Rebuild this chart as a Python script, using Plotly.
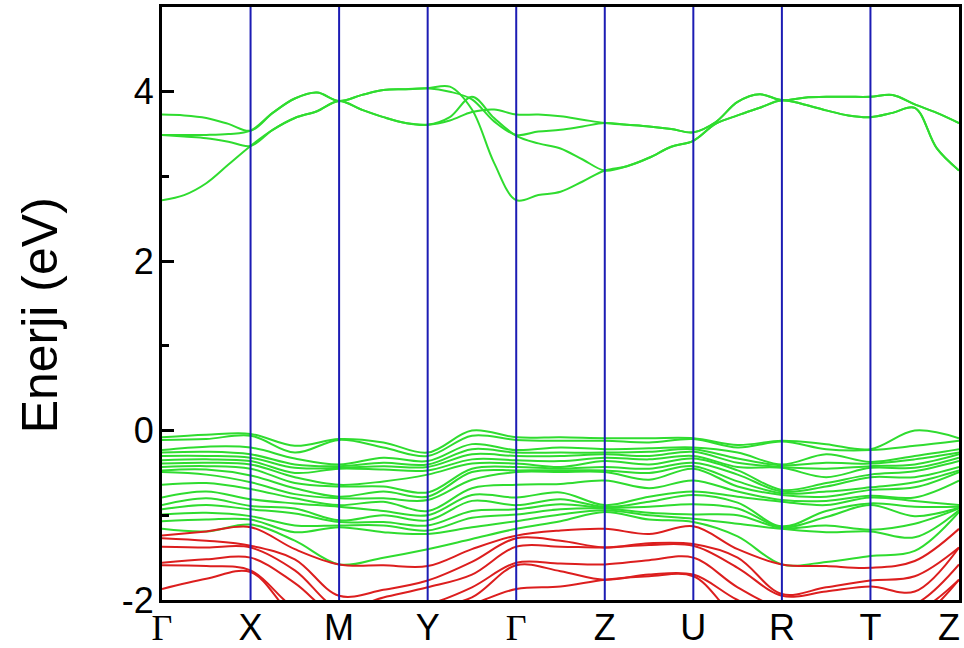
import plotly.graph_objects as go

# ---- k-path ----
kpoint_labels = ["Γ", "X", "M", "Y", "Γ", "Z", "U", "R", "T", "Z"]
kpoint_pos = [0, 1, 2, 3, 4, 5, 6, 7, 8, 9]
k_half = [0, 0.5, 1, 1.5, 2, 2.5, 3, 3.5, 4, 4.5, 5, 5.5, 6, 6.5, 7, 7.5, 8, 8.5, 9]
k_quarter = [0, 0.25, 0.5, 0.75, 1, 1.25, 1.5, 1.75, 2, 2.25, 2.5, 2.75, 3, 3.25, 3.5, 3.75,
             4, 4.25, 4.5, 4.75, 5, 5.25, 5.5, 5.75, 6, 6.25, 6.5, 6.75, 7, 7.25, 7.5, 7.75,
             8, 8.25, 8.5, 8.75, 9]

# ---- conduction bands (green, sampled on k_quarter) ----
cb1 = [3.73, 3.72, 3.69, 3.62, 3.54, 3.75, 3.92, 3.99, 3.89, 3.96, 4.02, 4.03, 4.04,
       4.00, 3.91, 3.65, 3.49, 3.53, 3.55, 3.59, 3.63, 3.61, 3.59, 3.56, 3.52,
       3.64, 3.88, 3.97, 3.90, 3.93, 3.94, 3.94, 3.94, 3.96, 3.85, 3.75, 3.63]
cb2 = [3.49, 3.49, 3.49, 3.50, 3.54, 3.75, 3.92, 3.99, 3.89, 3.96, 4.02, 4.03, 4.04,
       4.06, 3.79, 3.16, 2.72, 2.78, 2.82, 2.94, 3.07, 3.12, 3.22, 3.35, 3.42,
       3.62, 3.72, 3.81, 3.90, 3.85, 3.78, 3.72, 3.70, 3.75, 3.81, 3.33, 3.07]
cb3 = [3.49, 3.47, 3.45, 3.41, 3.36, 3.55, 3.69, 3.77, 3.89, 3.79, 3.70, 3.63, 3.61,
       3.70, 3.94, 3.69, 3.48, 3.39, 3.33, 3.20, 3.07, 3.12, 3.22, 3.35, 3.42,
       3.62, 3.72, 3.81, 3.90, 3.85, 3.78, 3.72, 3.70, 3.75, 3.81, 3.33, 3.07]
cb4 = [2.72, 2.78, 2.92, 3.14, 3.36, 3.55, 3.69, 3.77, 3.89, 3.79, 3.70, 3.63, 3.61,
       3.66, 3.76, 3.79, 3.73, 3.73, 3.71, 3.67, 3.63, 3.61, 3.59, 3.56, 3.52,
       3.64, 3.88, 3.97, 3.90, 3.93, 3.94, 3.94, 3.94, 3.96, 3.85, 3.75, 3.63]

# ---- upper valence bands (green, sampled on k_half) ----
g01 = [-0.08, -0.05, -0.04, -0.18, -0.10, -0.14, -0.26, 0.00, -0.08, -0.08, -0.09, -0.09, -0.09, -0.17, -0.12, -0.16, -0.22, 0.00, -0.09]
g02 = [-0.11, -0.10, -0.06, -0.26, -0.11, -0.20, -0.30, -0.06, -0.11, -0.12, -0.12, -0.14, -0.10, -0.20, -0.13, -0.22, -0.23, -0.18, -0.12]
g03 = [-0.23, -0.19, -0.20, -0.33, -0.40, -0.32, -0.36, -0.16, -0.23, -0.20, -0.22, -0.21, -0.20, -0.26, -0.40, -0.28, -0.37, -0.30, -0.22]
g04 = [-0.26, -0.25, -0.28, -0.40, -0.42, -0.38, -0.40, -0.22, -0.26, -0.26, -0.26, -0.25, -0.22, -0.33, -0.41, -0.38, -0.39, -0.34, -0.26]
g05 = [-0.30, -0.30, -0.32, -0.44, -0.44, -0.42, -0.43, -0.28, -0.30, -0.30, -0.28, -0.30, -0.25, -0.38, -0.43, -0.45, -0.42, -0.40, -0.28]
g06 = [-0.35, -0.34, -0.36, -0.50, -0.45, -0.46, -0.47, -0.34, -0.35, -0.36, -0.32, -0.34, -0.30, -0.43, -0.44, -0.55, -0.44, -0.44, -0.32]
g07 = [-0.39, -0.38, -0.40, -0.55, -0.64, -0.60, -0.52, -0.39, -0.39, -0.43, -0.36, -0.40, -0.33, -0.47, -0.70, -0.62, -0.52, -0.48, -0.36]
g08 = [-0.43, -0.42, -0.45, -0.62, -0.66, -0.66, -0.73, -0.45, -0.43, -0.45, -0.43, -0.45, -0.38, -0.52, -0.72, -0.66, -0.55, -0.55, -0.43]
g09 = [-0.47, -0.46, -0.53, -0.68, -0.78, -0.72, -0.78, -0.49, -0.47, -0.47, -0.47, -0.50, -0.42, -0.60, -0.74, -0.72, -0.67, -0.61, -0.47]
g10 = [-0.49, -0.52, -0.61, -0.75, -0.80, -0.80, -0.82, -0.58, -0.49, -0.49, -0.49, -0.58, -0.45, -0.66, -0.76, -0.78, -0.70, -0.67, -0.49]
g11 = [-0.64, -0.62, -0.69, -0.80, -0.88, -0.84, -0.95, -0.68, -0.64, -0.63, -0.59, -0.68, -0.59, -0.72, -0.82, -0.83, -0.77, -0.79, -0.59]
g12 = [-0.79, -0.72, -0.81, -0.86, -0.90, -0.95, -1.00, -0.76, -0.79, -0.73, -0.88, -0.78, -0.72, -0.78, -0.84, -0.88, -0.79, -0.83, -0.88]
g13 = [-0.88, -0.80, -0.89, -0.92, -1.06, -1.00, -1.06, -0.83, -0.88, -0.81, -0.90, -0.84, -0.76, -0.85, -1.13, -0.95, -0.86, -0.90, -0.90]
g14 = [-0.93, -0.88, -0.93, -0.98, -1.08, -1.08, -1.12, -0.95, -0.93, -0.87, -0.91, -0.90, -0.87, -0.92, -1.14, -1.02, -0.88, -1.01, -0.91]
g15 = [-0.99, -0.97, -1.01, -1.12, -1.12, -1.12, -1.18, -1.03, -0.99, -0.93, -0.92, -0.97, -0.99, -1.00, -1.15, -1.12, -1.17, -1.10, -0.92]
g16 = [-1.07, -1.05, -1.05, -1.20, -1.14, -1.20, -1.22, -1.14, -1.07, -0.99, -0.94, -1.00, -1.04, -1.10, -1.16, -1.20, -1.19, -1.26, -0.94]
g17 = [-1.16, -1.19, -1.11, -1.30, -1.58, -1.50, -1.40, -1.28, -1.16, -1.07, -0.96, -1.05, -1.08, -1.25, -1.58, -1.55, -1.48, -1.42, -0.96]

# ---- lower valence bands (red, sampled on k_half) ----
r1 = [-1.24, -1.19, -1.14, -1.40, -1.58, -1.59, -1.60, -1.40, -1.24, -1.18, -1.16, -1.22, -1.13, -1.40, -1.58, -1.60, -1.62, -1.54, -1.16]
r2 = [-1.27, -1.30, -1.36, -1.52, -1.95, -1.88, -1.77, -1.55, -1.27, -1.30, -1.38, -1.33, -1.34, -1.50, -1.93, -1.85, -1.77, -1.72, -1.38]
r3 = [-1.37, -1.38, -1.38, -1.65, -2.10, -1.97, -1.85, -1.70, -1.37, -1.37, -1.38, -1.35, -1.36, -1.62, -1.95, -1.90, -1.84, -1.90, -1.38]
r4 = [-1.56, -1.52, -1.50, -1.80, -2.20, -2.10, -2.05, -1.85, -1.56, -1.57, -1.58, -1.53, -1.50, -1.85, -2.10, -2.10, -2.10, -2.05, -1.58]
r5 = [-1.59, -1.60, -1.65, -2.10, -2.30, -2.20, -2.10, -1.97, -1.59, -1.66, -1.76, -1.70, -1.70, -2.00, -2.20, -2.20, -2.20, -2.15, -1.76]
r6 = [-1.87, -1.75, -1.67, -2.20, -2.40, -2.30, -2.20, -2.05, -1.87, -1.84, -1.76, -1.72, -1.72, -2.20, -2.30, -2.30, -2.30, -2.25, -1.76]

# y-axis ticks
y_tickvals = [-2, 0, 2, 4]
y_ticktext = ["-2", "0", "2", "4"]
y_minor = [-1, 1, 3]

GREEN = "#2fdc2f"
RED = "#dc1e1e"
BLUE = "#1c1cb4"

fig = go.Figure()

for band in [g01, g02, g03, g04, g05, g06, g07, g08, g09, g10, g11, g12, g13, g14, g15, g16, g17]:
    fig.add_trace(go.Scatter(x=k_half, y=band, mode="lines",
                             line=dict(color=GREEN, width=2, shape="spline", smoothing=1),
                             hoverinfo="skip"))
for band in [r1, r2, r3, r4, r5, r6]:
    fig.add_trace(go.Scatter(x=k_half, y=band, mode="lines",
                             line=dict(color=RED, width=2, shape="spline", smoothing=1),
                             hoverinfo="skip"))
for band in [cb1, cb2, cb3, cb4]:
    fig.add_trace(go.Scatter(x=k_quarter, y=band, mode="lines",
                             line=dict(color=GREEN, width=2, shape="spline", smoothing=1),
                             hoverinfo="skip"))

for kp in kpoint_pos[1:-1]:
    fig.add_shape(type="line", xref="x", yref="paper", x0=kp, x1=kp, y0=0, y1=1,
                  line=dict(color=BLUE, width=2), layer="above")

# axis tick labels for all but the last k-point; the last one is right-aligned
tick_labels = [('<span style="font-family:Liberation Serif">Γ</span>' if t == "Γ" else t)
               for t in kpoint_labels[:-1]]

fig.update_layout(
    width=964, height=648,
    margin=dict(l=162, r=5, t=7, b=48),
    paper_bgcolor="white", plot_bgcolor="white",
    showlegend=False,
    font=dict(family="Liberation Sans, Arial", color="black"),
    xaxis=dict(range=[0, 9], tickmode="array", tickvals=kpoint_pos[:-1], ticktext=tick_labels,
               tickfont=dict(size=36), ticks="", showgrid=False, zeroline=False,
               showline=True, mirror=True, linecolor="black", linewidth=3,
               automargin=False, ticklabeloverflow="allow", ticklabelstandoff=-6),
    yaxis=dict(range=[-2, 5], tickmode="array", tickvals=y_tickvals, ticktext=y_ticktext,
               tickfont=dict(size=36), ticks="inside", ticklen=12, tickwidth=3,
               tickcolor="black", showgrid=False, zeroline=False,
               showline=True, mirror=True, linecolor="black", linewidth=3,
               automargin=False, ticklabeloverflow="allow", ticklabelstandoff=-2,
               minor=dict(tickmode="array", tickvals=y_minor, ticks="inside",
                          ticklen=7, tickwidth=3, tickcolor="black", showgrid=False)),
)

fig.add_annotation(text=kpoint_labels[-1], xref="x", yref="paper",
                   x=kpoint_pos[-1], y=0, xanchor="right", yanchor="middle",
                   xshift=3, yshift=-27, showarrow=False,
                   font=dict(size=36, color="black"))

fig.add_annotation(text="Enerji (eV)", xref="paper", yref="paper",
                   x=(40 - 162) / 797, y=0.48, xanchor="center", yanchor="middle",
                   textangle=-90, showarrow=False, font=dict(size=50, color="black"))

fig.write_html("out.html")
